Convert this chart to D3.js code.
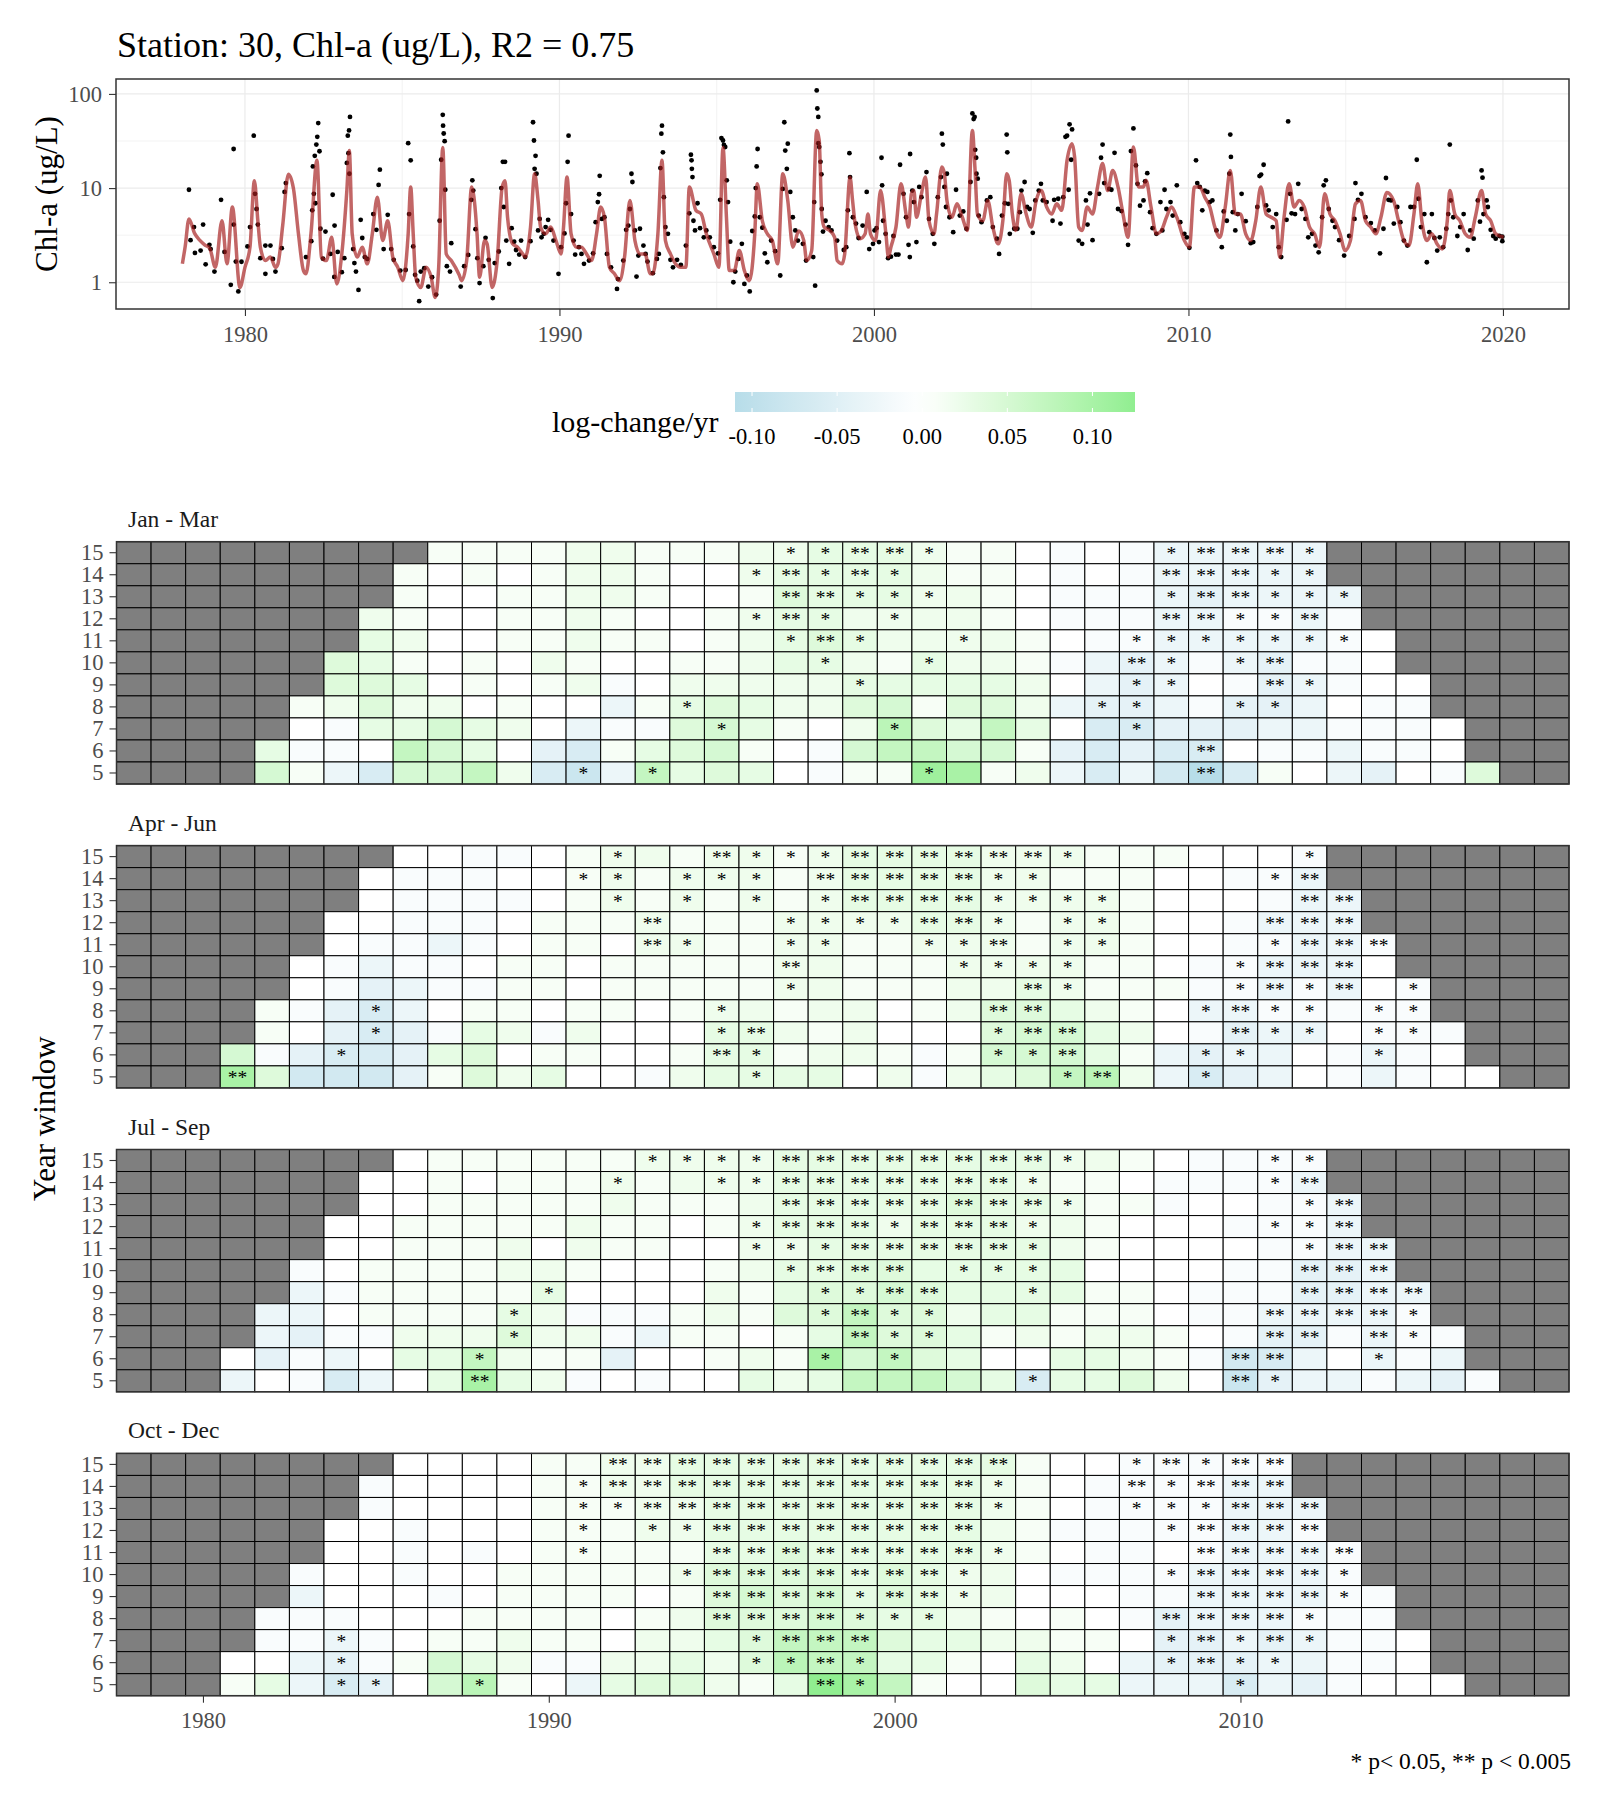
<!DOCTYPE html>
<html>
<head>
<meta charset="utf-8">
<script src="https://cdn.jsdelivr.net/npm/d3@7"></script>
<style>
  body { margin: 0; background: #fff; }
  svg text { font-family: "Liberation Serif", "Times New Roman", serif; }
</style>
</head>
<body>
<svg id="chart" width="1600" height="1800"></svg>
<script>
// ---------- time series: fitted model line and observations ----------
var fitLine = [[1978.01,1.57],[1978.10,2.4],[1978.22,4.7],[1978.40,3.3],[1978.56,2.8],[1978.72,2.5],[1978.88,2.3],[1979.06,1.44],[1979.27,4.5],[1979.43,1.57],[1979.60,6.3],[1979.84,0.88],[1980.00,1.44],[1980.16,2.36],[1980.30,12],[1980.41,4.5],[1980.49,2.36],[1980.65,1.7],[1980.81,1.85],[1980.97,1.44],[1981.05,1.57],[1981.20,4],[1981.38,14],[1981.54,10],[1981.70,3.3],[1981.86,1.33],[1981.94,1.23],[1982.10,3.3],[1982.29,19.7],[1982.43,1.85],[1982.59,1.7],[1982.76,3.0],[1982.92,0.96],[1983.08,2.0],[1983.24,9.4],[1983.32,25],[1983.41,3.27],[1983.57,1.85],[1983.73,2.36],[1983.89,1.57],[1984.05,3.27],[1984.21,8.0],[1984.38,2.77],[1984.54,4.5],[1984.70,1.85],[1984.86,1.44],[1985.02,1.04],[1985.19,3.27],[1985.27,10.3],[1985.35,3.27],[1985.43,1.13],[1985.59,0.88],[1985.76,1.44],[1985.92,1.13],[1986.05,0.69],[1986.16,1.44],[1986.29,27],[1986.40,2.0],[1986.56,1.7],[1986.81,1.2],[1986.89,1.04],[1987.05,1.7],[1987.21,10.3],[1987.38,3.27],[1987.46,1.13],[1987.62,2.77],[1987.70,2.56],[1987.86,0.88],[1988.02,1.7],[1988.18,10.3],[1988.27,12],[1988.35,4.9],[1988.51,2.56],[1988.67,2.36],[1988.83,2.0],[1988.91,1.85],[1989.08,3.85],[1989.21,14.2],[1989.32,7.4],[1989.40,3.85],[1989.56,3.27],[1989.72,3.85],[1989.89,2.77],[1990.05,2.0],[1990.13,3.85],[1990.24,13.1],[1990.37,3.27],[1990.54,2.36],[1990.70,2.36],[1990.86,2.0],[1991.02,1.7],[1991.18,3.27],[1991.31,6.3],[1991.43,4.9],[1991.59,1.44],[1991.75,1.23],[1991.91,1.04],[1992.07,1.85],[1992.24,7.4],[1992.40,2.77],[1992.56,2.0],[1992.72,2.0],[1992.89,1.23],[1992.97,1.23],[1993.13,3.27],[1993.26,19.7],[1993.37,2.77],[1993.53,2.0],[1993.69,1.57],[1993.86,1.44],[1994.02,1.44],[1994.13,10.3],[1994.34,5.8],[1994.51,5.3],[1994.67,3.27],[1994.91,2.0],[1995.07,1.44],[1995.20,27],[1995.31,4.9],[1995.40,1.33],[1995.56,1.33],[1995.72,2.17],[1995.88,1.33],[1996.04,1.04],[1996.21,3.27],[1996.29,11.1],[1996.45,4.5],[1996.61,3.27],[1996.77,2.77],[1996.94,1.57],[1997.10,14.2],[1997.26,7.4],[1997.42,2.36],[1997.61,3.5],[1997.77,2.77],[1997.86,1.7],[1998.02,2.17],[1998.18,41],[1998.26,32],[1998.34,5.3],[1998.42,3.85],[1998.59,3.55],[1998.75,3.0],[1998.83,1.7],[1998.99,1.57],[1999.07,2.0],[1999.24,13],[1999.32,7.4],[1999.40,4.2],[1999.56,2.9],[1999.72,3.27],[1999.81,5.3],[1999.89,3.27],[2000.05,2.77],[2000.21,9.4],[2000.38,3.27],[2000.46,1.85],[2000.54,2.36],[2000.70,3.85],[2000.86,11.1],[2001.02,5.3],[2001.10,3.85],[2001.19,8.7],[2001.27,9.4],[2001.35,4.9],[2001.51,8.7],[2001.64,13.1],[2001.75,4.5],[2001.91,3.27],[2001.99,5.3],[2002.16,16.7],[2002.24,14.2],[2002.32,7.4],[2002.48,4.9],[2002.64,6.8],[2002.81,4.9],[2002.97,3.55],[2003.13,41],[2003.21,16.7],[2003.29,5.3],[2003.46,4.5],[2003.62,7.4],[2003.78,3.85],[2003.95,2.56],[2004.11,4.9],[2004.22,14.2],[2004.30,12.1],[2004.40,5.3],[2004.51,3.55],[2004.68,8.7],[2004.84,5.3],[2005.00,3.85],[2005.16,7.4],[2005.32,9.4],[2005.49,6.3],[2005.65,5.3],[2005.81,6.8],[2005.97,5.8],[2006.14,19.7],[2006.30,29.6],[2006.38,21.4],[2006.51,3.85],[2006.62,3.55],[2006.78,6.3],[2006.95,5.3],[2007.11,10.3],[2007.27,18.2],[2007.43,9.4],[2007.59,15.4],[2007.76,10.3],[2007.92,5.3],[2008.08,3.0],[2008.25,27.3],[2008.41,10.3],[2008.57,10.3],[2008.65,12.1],[2008.81,6.3],[2008.98,3.27],[2009.14,3.55],[2009.30,4.9],[2009.46,6.3],[2009.63,4.9],[2009.87,2.77],[2010.03,2.36],[2010.19,10.3],[2010.36,10.3],[2010.52,8.0],[2010.68,6.3],[2010.84,3.85],[2011.00,3.0],[2011.17,6.3],[2011.33,15.4],[2011.49,5.3],[2011.65,5.3],[2011.82,3.27],[2011.98,2.77],[2012.14,4.5],[2012.30,10.3],[2012.47,5.3],[2012.63,4.9],[2012.79,4.5],[2012.90,1.85],[2013.04,4.9],[2013.20,11.1],[2013.36,6.3],[2013.52,7.4],[2013.68,6.3],[2013.85,3.85],[2014.01,3.27],[2014.17,2.36],[2014.33,8.7],[2014.50,5.3],[2014.66,4.5],[2014.82,3.27],[2014.98,2.17],[2015.15,2.77],[2015.31,6.8],[2015.47,7.4],[2015.63,4.5],[2015.80,3.85],[2015.96,3.27],[2016.12,4.9],[2016.31,9.0],[2016.52,7.4],[2016.68,4.5],[2016.85,2.77],[2017.01,2.45],[2017.17,5.3],[2017.29,11.1],[2017.42,4.5],[2017.58,2.77],[2017.74,3.27],[2017.90,2.56],[2018.07,2.26],[2018.23,4.5],[2018.31,9.4],[2018.47,5.3],[2018.63,4.5],[2018.80,3.27],[2018.96,3.0],[2019.12,4.9],[2019.32,9.4],[2019.45,5.3],[2019.61,4.5],[2019.77,3.27],[2020.02,3.0]];

var obsPoints = [[1978.22,9.6],[1978.27,2.8],[1978.38,3.85],[1978.41,2.05],[1978.59,2.17],[1978.67,4.1],[1978.75,1.55],[1978.87,2.5],[1978.91,2.25],[1979.03,1.3],[1979.24,7.5],[1979.35,2.1],[1979.55,0.94],[1979.64,26],[1979.64,4.1],[1979.71,1.66],[1979.79,0.8],[1979.89,1.65],[1980.08,2.4],[1980.16,3.85],[1980.28,36],[1980.32,8.7],[1980.37,6.0],[1980.41,4.1],[1980.49,1.8],[1980.65,1.23],[1980.65,2.45],[1980.81,2.45],[1980.89,1.77],[1980.97,1.3],[1981.17,2.3],[1981.26,9.1],[1981.30,11.3],[1981.94,1.85],[1982.11,2.73],[1982.14,5.8],[1982.16,17],[1982.19,8.7],[1982.22,22],[1982.27,29],[1982.30,35],[1982.33,49],[1982.37,24.6],[1982.24,6.9],[1982.40,3.7],[1982.48,1.78],[1982.56,3.45],[1982.72,2.0],[1982.79,8.5],[1982.84,1.14],[1982.85,4.0],[1982.95,2.1],[1983.08,1.28],[1983.16,1.8],[1983.24,18.5],[1983.27,36],[1983.31,41],[1983.34,57],[1983.29,23.5],[1983.32,14.2],[1983.44,2.25],[1983.48,1.6],[1983.53,1.3],[1983.61,0.83],[1983.68,4.6],[1983.73,2.95],[1983.81,1.85],[1983.89,1.77],[1984.08,5.3],[1984.18,3.6],[1984.25,10.8],[1984.29,15.7],[1984.41,2.25],[1984.54,5.2],[1984.65,2.25],[1984.73,1.73],[1984.94,1.33],[1985.11,1.35],[1985.19,30],[1985.27,19.7],[1985.22,5.3],[1985.35,2.4],[1985.41,1.2],[1985.48,1.04],[1985.54,0.63],[1985.59,1.3],[1985.70,1.41],[1985.83,0.9],[1985.95,1.13],[1986.08,0.74],[1986.19,4.5],[1986.24,20],[1986.29,60],[1986.30,46],[1986.32,38],[1986.35,31.5],[1986.37,9.6],[1986.42,1.48],[1986.52,1.3],[1986.56,2.6],[1986.86,0.9],[1986.97,1.48],[1987.10,1.95],[1987.20,7.5],[1987.23,12.1],[1987.26,9.4],[1987.33,3.66],[1987.39,1.8],[1987.46,0.98],[1987.58,1.48],[1987.65,2.96],[1987.75,1.73],[1987.88,0.68],[1987.94,1.6],[1988.07,2.12],[1988.15,10],[1988.20,19],[1988.27,19],[1988.23,6.3],[1988.31,2.77],[1988.40,1.57],[1988.48,3.75],[1988.56,2.7],[1988.62,2.2],[1988.72,1.97],[1988.78,2.77],[1988.91,1.85],[1989.08,2.73],[1989.16,50],[1989.19,32],[1989.21,16],[1989.24,22],[1989.27,14.2],[1989.32,3.55],[1989.37,4.7],[1989.43,3.0],[1989.50,3.27],[1989.56,3.85],[1989.64,4.6],[1989.72,3.6],[1989.81,2.77],[1989.97,1.23],[1990.05,2.36],[1990.16,3.3],[1990.21,6.9],[1990.26,19],[1990.29,36],[1990.37,5.3],[1990.45,2.77],[1990.50,1.97],[1990.62,2.36],[1990.70,2.0],[1990.78,1.57],[1990.94,1.7],[1991.07,2.03],[1991.15,4.35],[1991.22,7.1],[1991.26,8.6],[1991.28,13.5],[1991.35,4.7],[1991.43,4.9],[1991.51,2.0],[1991.64,1.44],[1991.83,0.85],[1991.86,1.08],[1992.03,1.7],[1992.12,3.6],[1992.19,4.0],[1992.24,6.0],[1992.29,14.2],[1992.32,11.6],[1992.40,3.55],[1992.45,1.15],[1992.51,1.92],[1992.56,3.7],[1992.67,2.45],[1992.74,2.0],[1992.80,1.66],[1992.97,1.25],[1993.10,1.77],[1993.16,2.0],[1993.21,16.3],[1993.24,37.8],[1993.26,46],[1993.29,24],[1993.32,8.0],[1993.37,3.85],[1993.45,3.27],[1993.53,1.73],[1993.61,1.44],[1993.74,1.73],[1993.86,1.53],[1994.02,2.45],[1994.13,5.4],[1994.18,22.6],[1994.20,19.7],[1994.21,16],[1994.23,13.1],[1994.26,4.5],[1994.31,3.55],[1994.39,6.9],[1994.47,3.75],[1994.59,3.0],[1994.67,3.55],[1994.78,3.0],[1994.91,2.36],[1995.04,2.03],[1995.11,7.5],[1995.15,34],[1995.20,32],[1995.23,28.7],[1995.27,27.3],[1995.32,12.1],[1995.36,7.1],[1995.43,2.7],[1995.53,1.0],[1995.59,1.3],[1995.69,1.77],[1995.80,2.56],[1995.88,0.96],[1995.96,1.18],[1996.05,0.8],[1996.13,3.5],[1996.21,5.0],[1996.24,10],[1996.27,17],[1996.30,26],[1996.37,4.9],[1996.45,3.8],[1996.53,2.03],[1996.61,1.63],[1996.73,2.77],[1996.86,2.14],[1997.02,1.18],[1997.10,9.8],[1997.15,50],[1997.18,25],[1997.23,16],[1997.26,29.6],[1997.34,9.1],[1997.42,4.9],[1997.50,3.55],[1997.58,2.77],
[1997.74,2.56],[1997.84,1.7],[1998.07,1.85],[1998.10,7.1],[1998.13,0.92],[1998.18,109],[1998.20,70],[1998.23,57],[1998.23,30],[1998.26,27.3],[1998.30,19],[1998.33,14],[1998.34,6.0],[1998.38,3.45],[1998.46,4.5],[1998.56,3.85],[1998.65,3.55],[1998.83,2.77],[1999.04,2.2],[1999.12,2.36],[1999.17,5.8],[1999.22,23.5],[1999.24,13.1],[1999.33,4.9],[1999.43,4.2],[1999.51,2.95],[1999.64,4.0],[1999.77,9.1],[1999.85,2.25],[1999.97,2.56],[2000.02,3.55],[2000.08,3.75],[2000.16,2.67],[2000.24,21],[2000.26,10.7],[2000.29,4.5],[2000.37,3.27],[2000.45,1.8],[2000.54,1.87],[2000.62,3.1],[2000.70,1.97],[2000.78,1.97],[2000.83,17.7],[2000.94,8.7],[2001.02,4.9],[2001.10,2.5],[2001.14,1.85],[2001.15,23],[2001.22,9.4],[2001.27,7.1],[2001.35,2.67],[2001.44,10.3],[2001.51,8.0],[2001.67,14.8],[2001.75,4.7],[2001.87,3.27],[2001.92,2.56],[2002.03,8.0],[2002.13,13.1],[2002.16,37.8],[2002.19,29],[2002.24,10.3],[2002.29,6.3],[2002.32,14.2],[2002.40,4.9],[2002.52,3.4],[2002.61,9.6],[2002.73,5.1],[2002.84,5.65],[2002.94,3.7],[2003.07,11.6],[2003.13,62],[2003.17,54],[2003.20,57],[2003.22,25.5],[2003.25,21],[2003.26,14.2],[2003.30,12.6],[2003.33,5.1],[2003.42,4.35],[2003.59,7.4],[2003.70,8.0],[2003.78,3.85],[2003.91,2.9],[2003.98,2.0],[2004.07,5.1],[2004.16,6.9],[2004.22,37],[2004.24,24],[2004.27,6.8],[2004.32,3.27],[2004.46,3.7],[2004.56,3.7],[2004.64,5.55],[2004.69,9.4],[2004.79,11.6],[2004.87,6.3],[2004.95,6.0],[2005.05,3.35],[2005.13,7.4],[2005.24,9.4],[2005.31,11.1],[2005.37,7.4],[2005.49,7.1],[2005.68,4.5],[2005.73,7.5],[2005.86,7.7],[2005.93,4.2],[2006.02,8.0],[2006.09,35],[2006.14,36],[2006.19,9.6],[2006.22,47.5],[2006.27,20],[2006.30,42],[2006.51,2.77],[2006.62,2.56],[2006.74,7.4],[2006.79,4.1],[2006.87,8.8],[2006.95,2.8],[2007.16,8.7],[2007.22,21],[2007.27,29],[2007.32,11.3],[2007.48,9.8],[2007.55,9.6],[2007.65,23.7],[2007.76,6.0],[2007.87,5.7],[2008.00,4.1],[2008.08,2.5],[2008.17,24.7],[2008.25,43],[2008.33,17.4],[2008.38,11.1],[2008.46,6.5],[2008.57,7.4],[2008.62,11.8],[2008.69,14.4],[2008.78,5.55],[2008.86,3.75],[2008.98,3.27],[2009.11,7.1],[2009.17,3.55],[2009.24,9.6],[2009.30,6.0],[2009.43,7.1],[2009.50,5.1],[2009.63,10.7],[2009.74,4.35],[2009.87,3.27],[2009.95,3.0],[2010.03,2.32],[2010.24,19.7],[2010.28,11.3],[2010.36,10.3],[2010.44,5.8],[2010.52,9.4],[2010.60,9.1],[2010.68,7.1],[2010.76,7.4],[2010.89,3.55],[2011.06,2.36],[2011.12,5.65],[2011.22,4.5],[2011.30,14.2],[2011.33,37],[2011.35,21.4],[2011.41,5.55],[2011.49,3.55],[2011.57,5.3],[2011.69,8.7],[2011.82,4.45],[2011.98,2.6],[2012.06,2.67],[2012.19,6.3],[2012.26,13.4],[2012.31,13.9],[2012.39,17.7],[2012.47,6.55],[2012.55,5.8],[2012.68,3.85],[2012.79,5.3],[2012.87,2.36],[2012.95,1.85],[2013.12,4.6],[2013.17,51],[2013.23,8.7],[2013.28,5.4],[2013.39,5.3],[2013.49,11.1],[2013.60,6.0],[2013.72,4.7],[2013.81,3.0],[2013.93,3.27],[2014.04,2.45],[2014.14,2.08],[2014.25,4.9],[2014.30,10.7],[2014.37,12.1],[2014.46,6.0],[2014.58,4.5],[2014.66,3.85],[2014.79,2.8],[2014.95,1.92],[2015.11,3.1],[2015.28,4.7],[2015.31,11.3],[2015.39,7.5],[2015.50,8.7],[2015.63,4.9],[2015.80,4.25],[2015.93,3.55],[2016.09,2.03],[2016.20,3.7],[2016.28,12.8],[2016.36,7.5],[2016.44,7.4],[2016.53,4.2],[2016.64,6.3],[2016.74,4.35],[2016.85,2.77],[2016.96,2.45],[2017.06,6.3],[2017.17,6.3],[2017.26,20],[2017.31,7.7],[2017.39,3.85],[2017.50,5.3],[2017.58,1.63],[2017.66,3.4],[2017.74,5.3],[2017.82,2.95],[2017.91,2.17],[2017.99,3.0],[2018.10,2.36],[2018.20,3.7],[2018.26,5.3],[2018.31,29],[2018.34,7.4],[2018.42,4.9],[2018.55,3.1],[2018.64,3.85],[2018.75,5.3],[2018.88,2.2],[2018.96,3.55],[2019.07,2.9],[2019.20,7.4],[2019.27,4.4],[2019.32,15.4],[2019.35,12.9],[2019.38,5.3],[2019.48,7.4],[2019.52,6.3],[2019.61,3.6],[2019.69,3.1],[2019.77,2.9],[2019.89,3.1],[2019.98,2.73],[2019.98,3.05]];

var topYTicks = [1, 10, 100];
var topXTicks = [1980, 1990, 2000, 2010, 2020];

// ---------- heatmaps: log-change/yr x 100, rows = year window 15 (top) .. 5 (bottom) ----------
var N = null;
var years = d3.range(1978, 2020);
var windows = [15, 14, 13, 12, 11, 10, 9, 8, 7, 6, 5];
var seasons = ["Jan - Mar", "Apr - Jun", "Jul - Sep", "Oct - Dec"];
var heatXTicks = [1980, 1990, 2000, 2010];

var fillJanMar = [
  [N,N,N,N,N,N,N,N,N, 1,1,1,1,2,2,1,1,1,2,2, 3,3,3,2,1,1,0,-1,0,-1,-3,-3,-3,-3,-3, N,N,N,N,N,N,N],
  [N,N,N,N,N,N,N,N, 1,0,1,0,1,2,2,1,0,0,2,3, 3,3,3,2,1,1,0,-1,0,-1,-3,-3,-3,-3,-3, N,N,N,N,N,N,N],
  [N,N,N,N,N,N,N,N, 1,0,0,1,1,2,2,1,0,0,1,4, 3,3,3,2,2,1,0,-1,-1,-1,-3,-4,-3,-3,-3,-3, N,N,N,N,N,N],
  [N,N,N,N,N,N,N, 2,1,0,0,1,1,2,1,0,0,1,2,3, 3,2,2,2,2,1,0,-1,-1,-1,-3,-3,-1,-1,-3,-1, N,N,N,N,N,N],
  [N,N,N,N,N,N,N, 3,2,0,0,1,1,2,1,1,0,1,2,3, 4,3,2,2,2,2,1,0,-1,-1,-3,-3,-3,-3,-3,-1,0, N,N,N,N,N],
  [N,N,N,N,N,N, 4,3,1,0,1,0,2,1,0,0,1,1,2,3, 3,2,1,3,2,2,1,-1,-3,-4,-3,-1,-3,-4,-1,-1,0, N,N,N,N,N],
  [N,N,N,N,N,N, 4,4,3,0,1,0,1,2,-1,0,2,2,2,2, 2,3,3,3,3,3,2,0,-3,-4,-3,0,-1,-4,-3,-1,0,0, N,N,N,N],
  [N,N,N,N,N, 1,2,4,2,2,0,1,0,0,-3,1,3,4,3,2, 2,4,5,1,4,4,2,-3,-4,-4,-3,-1,-4,-4,-3,0,-1,-1, N,N,N,N],
  [N,N,N,N,N, 0,-1,3,3,5,3,2,0,-3,-1,-1,4,5,3,1, 0,2,8,4,3,7,3,0,-6,-6,-4,-4,-4,-3,-3,-1,-1,-1,0, N,N,N],
  [N,N,N,N, 3,-1,-1,0,7,5,3,0,-4,-6,1,3,4,5,1,0, -1,5,7,7,5,5,1,-4,-6,-4,-6,-6,0,-1,-1,-3,-1,-1,0, N,N,N],
  [N,N,N,N, 5,1,-3,-6,5,5,7,2,-6,-8,-3,7,3,4,3,0, -1,1,1,11,10,1,2,-3,-6,-3,-7,-11,-6,1,0,-3,-4,0,-1,4, N,N]
];
var fillAprJun = [
  [N,N,N,N,N,N,N,N, 0,0,-1,-1,0,1,2,2,1,2,2,1, 2,3,3,3,3,2,2,2,1,1,1,0,0,0,-1, N,N,N,N,N,N,N],
  [N,N,N,N,N,N,N, 0,-1,-1,-1,0,0,1,2,1,2,2,2,1, 2,3,3,3,3,2,2,1,1,1,0,0,-1,-1,-3, N,N,N,N,N,N,N],
  [N,N,N,N,N,N,N, 0,-1,-1,-1,-1,0,1,2,1,2,1,2,1, 2,3,3,3,3,2,2,2,2,1,0,0,0,-1,-3,-3, N,N,N,N,N,N],
  [N,N,N,N,N,N, 0,0,-1,-1,-1,0,1,1,1,2,1,1,1,2, 2,2,2,3,3,2,1,2,2,1,0,0,-1,-3,-3,-3, N,N,N,N,N,N],
  [N,N,N,N,N,N, 0,-1,-1,-3,-1,0,1,1,0,2,2,1,1,2, 2,1,1,2,2,2,1,2,2,1,0,0,-1,-1,-3,-3,-1, N,N,N,N,N],
  [N,N,N,N,N, 0,-1,-3,-1,-1,0,1,1,0,1,1,1,1,1,2, 2,1,1,1,2,2,2,2,1,1,0,-1,-1,-3,-3,-3,0, N,N,N,N,N],
  [N,N,N,N,N, 0,-1,-4,-3,-1,-1,1,1,0,1,1,1,1,1,2, 2,1,1,1,2,2,3,2,1,1,1,-1,-1,-3,-1,-3,0,-1, N,N,N,N],
  [N,N,N,N, 1,-1,-4,-6,-3,0,1,1,0,1,1,0,1,2,2,1, 2,2,0,1,2,4,4,3,2,1,0,-3,-3,-1,-1,-1,-1,-1, N,N,N,N],
  [N,N,N,N, 1,0,-4,-6,-4,-1,3,2,-1,2,0,0,0,3,3,2, 1,2,0,0,0,4,5,5,3,2,0,-1,-4,-3,-3,0,-1,-1,-1, N,N,N],
  [N,N,N, 5,-1,-4,-6,-6,-4,3,4,0,1,1,0,0,1,3,3,1, 2,2,1,-1,1,5,5,5,3,1,-3,-4,-3,-3,0,-1,-3,-1,0, N,N,N],
  [N,N,N, 10,4,-7,-7,-7,-4,1,4,2,3,0,0,-1,2,3,3,3, 3,0,2,-1,2,3,4,7,8,2,-3,-6,-4,-3,0,-1,-3,-1,0,0, N,N]
];
var fillJulSep = [
  [N,N,N,N,N,N,N,N, 0,1,1,1,1,1,1,2,2,2,2,3, 3,3,3,3,3,3,3,2,2,1,0,-1,-1,-1,-1, N,N,N,N,N,N,N],
  [N,N,N,N,N,N,N, 0,0,1,0,1,1,1,2,1,2,2,2,3, 3,3,3,3,3,3,2,1,1,0,-1,-1,-1,-1,-3, N,N,N,N,N,N,N],
  [N,N,N,N,N,N,N, 0,0,1,1,1,1,1,2,1,1,1,2,3, 3,3,3,3,4,3,3,2,1,1,-1,0,0,-1,-1,-3, N,N,N,N,N,N],
  [N,N,N,N,N,N, 0,0,1,1,1,1,1,2,1,1,0,1,2,3, 3,3,2,3,3,3,2,2,1,0,0,0,-1,-1,-1,-3, N,N,N,N,N,N],
  [N,N,N,N,N,N, 0,0,1,1,1,2,0,2,1,1,0,0,2,2, 3,3,3,3,3,3,3,2,1,0,0,0,0,-1,-1,-3,-3, N,N,N,N,N],
  [N,N,N,N,N, -1,0,1,1,1,1,2,2,1,0,0,0,1,2,3, 3,4,4,3,3,3,3,3,0,0,0,0,-1,-1,-4,-4,-3, N,N,N,N,N],
  [N,N,N,N,N, -3,-1,1,1,1,1,1,3,0,0,0,0,2,1,3, 4,4,5,4,3,3,3,3,1,1,0,-1,-1,-1,-4,-4,-3,-3, N,N,N,N],
  [N,N,N,N, -3,-3,0,1,1,1,1,3,2,-1,-1,-1,1,2,1,4, 4,7,4,4,2,3,3,1,1,1,0,-1,-1,-3,-3,-3,-3,-1, N,N,N,N],
  [N,N,N,N, -3,-4,-1,-1,2,2,2,4,2,2,-1,-3,1,1,0,1, 3,7,4,4,3,1,2,1,2,2,1,0,-1,-4,-4,-1,-3,-1,-1, N,N,N],
  [N,N,N, 0,-4,-1,-3,0,3,3,7,2,1,1,-4,0,0,1,2,1, 10,5,7,4,3,0,0,3,3,2,1,-1,-7,-6,-3,0,-3,-1,-3, N,N,N],
  [N,N,N, -3,0,-1,-6,-3,0,3,10,3,2,-1,0,-1,0,0,3,2, 3,7,7,7,5,3,-6,3,3,4,2,0,-8,-4,-3,-3,-1,-3,-4,-1, N,N]
];
var fillOctDec = [
  [N,N,N,N,N,N,N,N, 0,0,0,0,1,1,2,2,3,3,3,3, 3,3,3,3,3,3,1,0,0,-1,-1,-1,-1,-1, N,N,N,N,N,N,N,N],
  [N,N,N,N,N,N,N, -1,0,0,0,0,1,1,2,2,3,3,3,3, 3,3,3,3,3,2,1,0,-1,-1,-1,-1,-3,-3, N,N,N,N,N,N,N,N],
  [N,N,N,N,N,N,N, -1,0,0,0,0,1,1,1,2,2,3,3,3, 3,3,3,3,3,2,1,0,-1,-1,-1,-1,-3,-3,-3, N,N,N,N,N,N,N],
  [N,N,N,N,N,N, 0,0,-1,0,0,0,1,1,1,2,2,3,3,3, 3,3,3,3,3,2,1,-1,-1,-1,-1,-1,-3,-3,-1, N,N,N,N,N,N,N],
  [N,N,N,N,N,N, 0,0,-1,0,-1,0,1,1,1,1,1,3,3,4, 3,3,3,3,3,2,1,0,-1,-1,0,-1,-3,-3,-3,-1, N,N,N,N,N,N],
  [N,N,N,N,N, -1,0,0,-1,0,0,1,1,1,1,1,2,4,4,4, 4,3,4,3,2,2,0,-1,-1,-1,-1,-3,-3,-3,-3,-1, N,N,N,N,N,N],
  [N,N,N,N,N, -3,0,0,0,-1,0,1,1,1,1,0,1,4,5,4, 5,3,4,3,2,2,0,0,0,-1,-1,-3,-3,-3,-3,-1,-1, N,N,N,N,N],
  [N,N,N,N, -1,-1,-1,0,0,0,1,1,1,1,0,1,2,4,4,4, 5,4,3,3,2,1,0,1,0,-1,-4,-3,-3,-3,-1,-1,-1, N,N,N,N,N],
  [N,N,N,N, -1,-1,-3,-1,0,1,1,2,1,1,0,2,2,3,4,7, 7,7,4,3,3,2,2,1,1,0,-4,-4,-3,-4,-3,-1,-1,0, N,N,N,N],
  [N,N,N, 0,0,-3,-4,-1,1,5,3,2,-1,-1,2,2,3,2,4,8, 7,7,3,3,1,0,3,2,0,-3,-4,-4,-4,-3,-3,-1,-1,0, N,N,N,N],
  [N,N,N, 1,3,-3,-6,-4,0,5,8,1,0,-3,3,4,4,2,1,3, 12.5,10,7,1,0,0,4,3,3,-3,-3,-3,-6,-3,-4,-1,0,0,0, N,N,N]
];

// significance: 0 none, 1 "*", 2 "**" (groups of ten years from 1978)
var sigJanMar = [
  "0000000000 0000000001 1221000000 1222100000 00",
  "0000000000 0000000012 1210000000 2221100000 00",
  "0000000000 0000000002 2111000000 1221110000 00",
  "0000000000 0000000012 1010000000 2211200000 00",
  "0000000000 0000000001 2100100001 1111110000 00",
  "0000000000 0000000000 1001000002 1012000000 00",
  "0000000000 0000000000 0100000001 1002100000 00",
  "0000000000 0000001000 0000000011 0011000000 00",
  "0000000000 0000000100 0010000001 0000000000 00",
  "0000000000 0000000000 0000000000 0200000000 00",
  "0000000000 0001010000 0001000000 0200000000 00"
];
var sigAprJun = [
  "0000000000 0000100211 1222222100 0000100000 00",
  "0000000000 0001101110 2222211000 0001200000 00",
  "0000000000 0000101010 1222211110 0000220000 00",
  "0000000000 0000020001 1112210110 0002220000 00",
  "0000000000 0000021001 1001120110 0001222000 00",
  "0000000000 0000000002 0000111100 0012220000 00",
  "0000000000 0000000001 0000002100 0012120100 00",
  "0000000100 0000000100 0000022000 0121101100 00",
  "0000000100 0000000120 0000012200 0021101100 00",
  "0000001000 0000000210 0000011200 0110001000 00",
  "0002000000 0000000010 0000000120 0100000000 00"
];
var sigJulSep = [
  "0000000000 0000011112 2222222100 0001100000 00",
  "0000000000 0000100112 2222221000 0001200000 00",
  "0000000000 0000000002 2222222100 0000120000 00",
  "0000000000 0000000012 2212221000 0001120000 00",
  "0000000000 0000000011 1222221000 0000122000 00",
  "0000000000 0000000001 2220111000 0000222000 00",
  "0000000000 0010000000 1122001000 0000222200 00",
  "0000000000 0100000000 1211000000 0002222100 00",
  "0000000000 0100000000 0211000000 0002202100 00",
  "0000000000 1000000000 1010000000 0022001000 00",
  "0000000000 2000000000 0000001000 0021000000 00"
];
var sigOctDec = [
  "0000000000 0000222222 2222220001 2122000000 00",
  "0000000000 0001222222 2222210002 1222000000 00",
  "0000000000 0001122222 2222210001 1122200000 00",
  "0000000000 0001011222 2222200000 1222200000 00",
  "0000000000 0001000222 2222210000 0222220000 00",
  "0000000000 0000001222 2222100000 1222210000 00",
  "0000000000 0000000222 2122100000 0222210000 00",
  "0000000000 0000000222 2111000000 2222100000 00",
  "0000001000 0000000012 2200000000 1212100000 00",
  "0000001000 0000000011 2100000000 1211000000 00",
  "0000001100 1000000000 2100000000 0010000000 00"
];

var legendTicks = [-0.10, -0.05, 0.00, 0.05, 0.10];

// ---------- drawing ----------
var svg = d3.select("#chart");
var tickGrey = "#4d4d4d";
var serif = "Liberation Serif, Times New Roman, serif";

// title
svg.append("text").attr("x", 117).attr("y", 57).attr("font-size", 36)
  .text("Station: 30, Chl-a (ug/L), R2 = 0.75");

// top panel
var top0 = { left: 116, right: 1569, top: 79, bottom: 309 };
var xTop = d3.scaleLinear().domain([1975.9, 2022.1]).range([top0.left, top0.right]);
var yTop = d3.scaleLog().domain([0.52, 144]).range([top0.bottom, top0.top]);

var gTop = svg.append("g");
// minor grid
[1985, 1995, 2005, 2015].forEach(function(v) {
  gTop.append("line").attr("x1", xTop(v)).attr("x2", xTop(v))
    .attr("y1", top0.top).attr("y2", top0.bottom).attr("stroke", "#ebebeb").attr("stroke-width", 0.6);
});
[Math.sqrt(10), Math.sqrt(1000)].forEach(function(v) {
  gTop.append("line").attr("x1", top0.left).attr("x2", top0.right)
    .attr("y1", yTop(v)).attr("y2", yTop(v)).attr("stroke", "#ebebeb").attr("stroke-width", 0.6);
});
// major grid
topXTicks.forEach(function(v) {
  gTop.append("line").attr("x1", xTop(v)).attr("x2", xTop(v))
    .attr("y1", top0.top).attr("y2", top0.bottom).attr("stroke", "#ebebeb").attr("stroke-width", 1.2);
});
topYTicks.forEach(function(v) {
  gTop.append("line").attr("x1", top0.left).attr("x2", top0.right)
    .attr("y1", yTop(v)).attr("y2", yTop(v)).attr("stroke", "#ebebeb").attr("stroke-width", 1.2);
});

gTop.selectAll("circle.obs").data(obsPoints).enter().append("circle")
  .attr("class", "obs")
  .attr("cx", function(d) { return xTop(d[0]); })
  .attr("cy", function(d) { return yTop(d[1]); })
  .attr("r", 2.4).attr("fill", "#000");

var line = d3.line()
  .x(function(d) { return xTop(d[0]); })
  .y(function(d) { return yTop(d[1]); })
  .curve(d3.curveMonotoneX);
gTop.append("path").datum(fitLine).attr("d", line)
  .attr("fill", "none").attr("stroke", "rgba(165,30,30,0.68)").attr("stroke-width", 3.5)
  .attr("stroke-linejoin", "round");

gTop.append("rect").attr("x", top0.left).attr("y", top0.top)
  .attr("width", top0.right - top0.left).attr("height", top0.bottom - top0.top)
  .attr("fill", "none").attr("stroke", "#333").attr("stroke-width", 1.5);

var axTopX = gTop.append("g").attr("transform", "translate(0," + top0.bottom + ")")
  .call(d3.axisBottom(xTop).tickValues(topXTicks).tickFormat(d3.format("d")).tickSize(7).tickPadding(10));
var axTopY = gTop.append("g").attr("transform", "translate(" + top0.left + ",0)")
  .call(d3.axisLeft(yTop).tickValues(topYTicks).tickFormat(d3.format("d")).tickSize(7).tickPadding(7));
[axTopX, axTopY].forEach(function(ax) {
  ax.select(".domain").remove();
  ax.selectAll(".tick line").attr("stroke", "#333").attr("stroke-width", 1.1);
  ax.selectAll(".tick text").attr("font-size", 22.5).attr("fill", tickGrey).attr("font-family", serif);
});

svg.append("text").attr("transform", "translate(46," + (top0.top + top0.bottom) / 2 + ") rotate(-90)")
  .attr("text-anchor", "middle").attr("dy", "0.35em").attr("font-size", 31).text("Chl-a (ug/L)");

// color scale
var fills = [fillJanMar, fillAprJun, fillJulSep, fillOctDec];
var sigs = [sigJanMar, sigAprJun, sigJulSep, sigOctDec];
var allVals = [];
fills.forEach(function(f) { f.forEach(function(r) { r.forEach(function(v) { if (v !== null) allVals.push(v / 100); }); }); });
var ext = d3.extent(allVals);
var m = Math.max(Math.abs(ext[0]), Math.abs(ext[1]));
var color = d3.scaleLinear().domain([-m, 0, m]).range(["#ADD8E6", "#FFFFFF", "#90EE90"])
  .interpolate(d3.interpolateLab);

// legend
var xLeg = d3.scaleLinear().domain(ext).range([735, 1135]);
var defs = svg.append("defs");
var grad = defs.append("linearGradient").attr("id", "legGrad").attr("x1", "0%").attr("x2", "100%");
d3.range(0, 1.0001, 0.05).forEach(function(t) {
  var v = ext[0] + t * (ext[1] - ext[0]);
  grad.append("stop").attr("offset", (t * 100) + "%").attr("stop-color", color(v));
});
svg.append("text").attr("x", 552).attr("y", 432).attr("font-size", 30).text("log-change/yr");
svg.append("rect").attr("x", xLeg.range()[0]).attr("y", 392).attr("width", xLeg.range()[1] - xLeg.range()[0])
  .attr("height", 20).attr("fill", "url(#legGrad)");
legendTicks.forEach(function(v) {
  svg.append("line").attr("x1", xLeg(v)).attr("x2", xLeg(v)).attr("y1", 392).attr("y2", 396)
    .attr("stroke", "#fff").attr("stroke-width", 1);
  svg.append("line").attr("x1", xLeg(v)).attr("x2", xLeg(v)).attr("y1", 408).attr("y2", 412)
    .attr("stroke", "#fff").attr("stroke-width", 1);
  svg.append("text").attr("x", xLeg(v)).attr("y", 444).attr("text-anchor", "middle")
    .attr("font-size", 22.5).text(d3.format(".2f")(v).replace("\u2212", "-"));
});

// heatmap panels
var heat = { left: 116.5, right: 1569, firstTop: 541.7, step: 303.9, height: 242.3 };
var xHeat = d3.scaleLinear().domain([1977.5, 2019.5]).range([heat.left, heat.right]);
var cellW = xHeat(1) - xHeat(0);

seasons.forEach(function(season, p) {
  var top = heat.firstTop + p * heat.step;
  var yHeat = d3.scaleBand().domain(windows).range([top, top + heat.height]);
  var g = svg.append("g");
  var cells = [];
  fills[p].forEach(function(row, r) {
    var sig = sigs[p][r].replace(/ /g, "").split("").map(Number);
    row.forEach(function(v, c) {
      cells.push({ year: years[c], win: windows[r], v: v === null ? null : v / 100, sig: sig[c] });
    });
  });
  g.selectAll("rect.cell").data(cells).enter().append("rect")
    .attr("class", "cell")
    .attr("x", function(d) { return xHeat(d.year - 0.5); })
    .attr("y", function(d) { return yHeat(d.win); })
    .attr("width", cellW).attr("height", yHeat.bandwidth())
    .attr("fill", function(d) { return d.v === null ? "#7f7f7f" : color(d.v); })
    .attr("stroke", "#000").attr("stroke-width", 1);
  g.selectAll("text.sig").data(cells.filter(function(d) { return d.sig > 0; })).enter().append("text")
    .attr("class", "sig")
    .attr("x", function(d) { return xHeat(d.year); })
    .attr("y", function(d) { return yHeat(d.win) + yHeat.bandwidth() / 2 + 7; })
    .attr("text-anchor", "middle").attr("font-size", 19.5)
    .text(function(d) { return d.sig === 2 ? "**" : "*"; });
  g.append("rect").attr("x", heat.left).attr("y", top).attr("width", heat.right - heat.left)
    .attr("height", heat.height).attr("fill", "none").attr("stroke", "#333").attr("stroke-width", 1.5);

  var ay = g.append("g").attr("transform", "translate(" + heat.left + ",0)")
    .call(d3.axisLeft(yHeat).tickSize(7).tickPadding(6));
  ay.select(".domain").remove();
  ay.selectAll(".tick line").attr("stroke", "#333").attr("stroke-width", 1.1);
  ay.selectAll(".tick text").attr("font-size", 22.5).attr("fill", tickGrey).attr("font-family", serif);

  svg.append("text").attr("x", 128).attr("y", top - 15).attr("font-size", 23.5).attr("fill", "#1a1a1a")
    .text(season);

  if (p === seasons.length - 1) {
    var ax = g.append("g").attr("transform", "translate(0," + (top + heat.height) + ")")
      .call(d3.axisBottom(xHeat).tickValues(heatXTicks).tickFormat(d3.format("d")).tickSize(7).tickPadding(9));
    ax.select(".domain").remove();
    ax.selectAll(".tick line").attr("stroke", "#333").attr("stroke-width", 1.1);
    ax.selectAll(".tick text").attr("font-size", 22.5).attr("fill", tickGrey).attr("font-family", serif);
  }
});

var heatMid = (heat.firstTop + heat.firstTop + 3 * heat.step + heat.height) / 2;
svg.append("text").attr("transform", "translate(44," + heatMid + ") rotate(-90)")
  .attr("text-anchor", "middle").attr("dy", "0.35em").attr("font-size", 31).text("Year window");

svg.append("text").attr("x", 1571).attr("y", 1769).attr("text-anchor", "end").attr("font-size", 23.5)
  .text("* p< 0.05, ** p < 0.005");
</script>
</body>
</html>
